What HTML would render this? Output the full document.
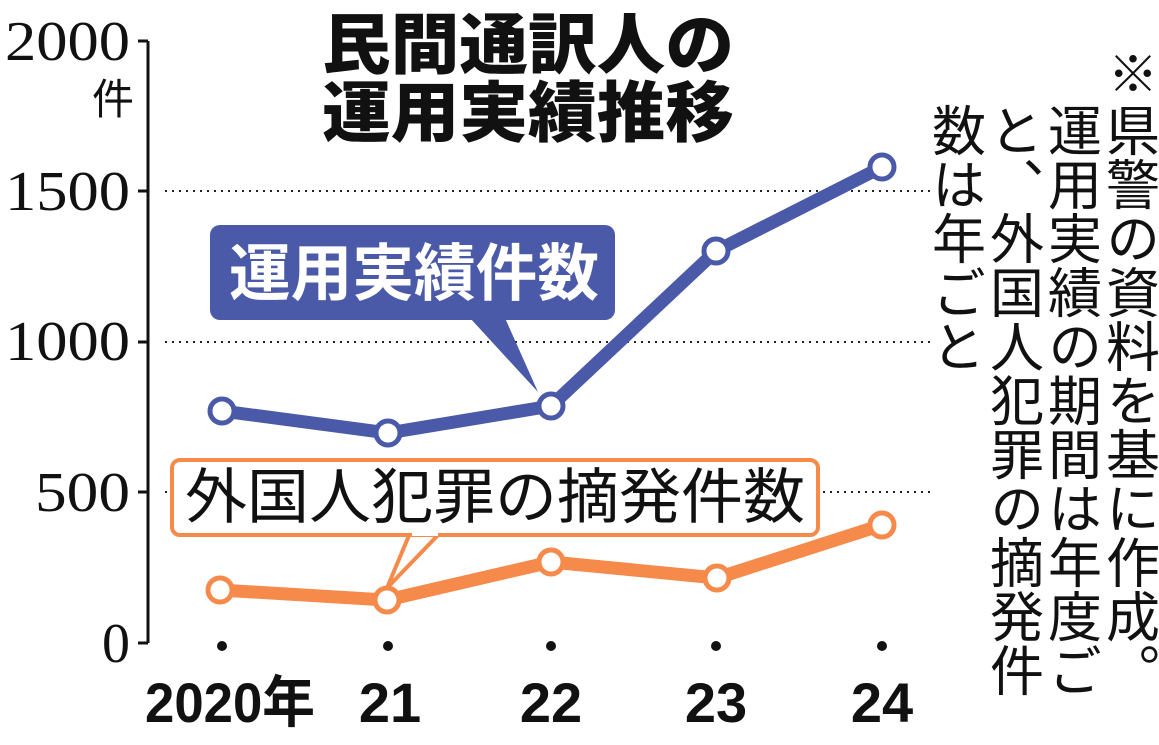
<!DOCTYPE html>
<html><head><meta charset="utf-8"><style>
body{margin:0;background:#fff;}
svg{display:block;}
</style></head><body>
<svg width="1159" height="745" viewBox="0 0 1159 745" xmlns="http://www.w3.org/2000/svg">
<g font-family="Liberation Serif, Noto Serif CJK SC, serif" font-size="56" fill="#111" text-anchor="end">
<text x="130" y="60" textLength="125" lengthAdjust="spacingAndGlyphs">2000</text>
<text x="130" y="210" textLength="125" lengthAdjust="spacingAndGlyphs">1500</text>
<text x="130" y="360" textLength="125" lengthAdjust="spacingAndGlyphs">1000</text>
<text x="130" y="511" textLength="95" lengthAdjust="spacingAndGlyphs">500</text>
<text x="130" y="662">0</text>
</g>
<text x="92" y="114" font-family="Noto Sans CJK JP, sans-serif" font-size="42" fill="#111">件</text>
<g stroke="#111" stroke-width="3" fill="none">
<path d="M148 41 V643 M138 41 H148 M138 191 H148 M138 342 H148 M138 492 H148 M138 643 H148"/>
</g>
<g stroke="#222" stroke-width="2" stroke-dasharray="2,5">
<line x1="165" y1="191" x2="930" y2="191"/>
<line x1="165" y1="342" x2="930" y2="342"/>
<line x1="165" y1="492" x2="930" y2="492"/>
</g>
<g font-family="Noto Sans CJK JP, sans-serif" font-weight="900" font-size="66" fill="#111">
<text x="322" y="68" textLength="412" lengthAdjust="spacingAndGlyphs">民間通訳人の</text>
<text x="322" y="136" textLength="412" lengthAdjust="spacingAndGlyphs">運用実績推移</text>
</g>
<polyline points="222,411 388,433 551,406 716,251 882,167" fill="none" stroke="#4a5aa8" stroke-width="13" stroke-linejoin="round"/>
<polyline points="220,590 387,600 551,562 717,578 882,525" fill="none" stroke="#f58a4b" stroke-width="13" stroke-linejoin="round"/>
<g fill="#fff" stroke="#4a5aa8" stroke-width="5">
<circle cx="222" cy="411" r="12"/><circle cx="388" cy="433" r="12"/><circle cx="551" cy="406" r="12"/><circle cx="716" cy="251" r="12"/><circle cx="882" cy="167" r="12"/>
</g>
<g fill="#fff" stroke="#f58a4b" stroke-width="5">
<circle cx="220" cy="590" r="12"/><circle cx="387" cy="600" r="12"/><circle cx="551" cy="562" r="12"/><circle cx="717" cy="578" r="12"/><circle cx="882" cy="525" r="12"/>
</g>
<path d="M470 318 L538 392 L505 318 Z" fill="#4a5aa8"/>
<rect x="210" y="225" width="405" height="95" rx="10" fill="#4a5aa8"/>
<text x="414" y="295" text-anchor="middle" font-family="Noto Sans CJK JP, sans-serif" font-weight="bold" font-size="62" fill="#fff" textLength="370" lengthAdjust="spacingAndGlyphs">運用実績件数</text>
<path d="M410 533 L387 588 L440 533" fill="#fff" stroke="#f58a4b" stroke-width="4"/>
<rect x="172" y="460" width="646" height="75" rx="8" fill="#fff" stroke="#f58a4b" stroke-width="4"/>
<rect x="412" y="530" width="26" height="6" fill="#fff"/>
<text x="495" y="518" text-anchor="middle" font-family="Noto Sans CJK JP, sans-serif" font-size="60" fill="#111" textLength="620" lengthAdjust="spacingAndGlyphs">外国人犯罪の摘発件数</text>
<g fill="#111">
<circle cx="222" cy="646" r="5"/><circle cx="388" cy="646" r="5"/><circle cx="551" cy="646" r="5"/><circle cx="716" cy="646" r="5"/><circle cx="882" cy="646" r="5"/>
</g>
<g font-family="Liberation Sans, Noto Sans CJK JP, sans-serif" font-weight="bold" font-size="56" fill="#111" text-anchor="middle">
<text x="230" y="722" textLength="170" lengthAdjust="spacingAndGlyphs">2020年</text>
<text x="390" y="722">21</text>
<text x="551" y="722">22</text>
<text x="716" y="722">23</text>
<text x="882" y="722">24</text>
</g>
<text x="1133" y="92" text-anchor="middle" font-family="Noto Sans CJK JP, sans-serif" font-size="50" fill="#111">※</text>
<g font-family="Noto Sans CJK JP, sans-serif" font-size="54" fill="#111" style="writing-mode:vertical-rl">
<text x="1133" y="103">県警の資料を基に作成。</text>
<text x="1075" y="103">運用実績の期間は年度ご</text>
<text x="1017" y="103">と、外国人犯罪の摘発件</text>
<text x="959" y="103">数は年ごと</text>
</g>
</svg>
</body></html>
